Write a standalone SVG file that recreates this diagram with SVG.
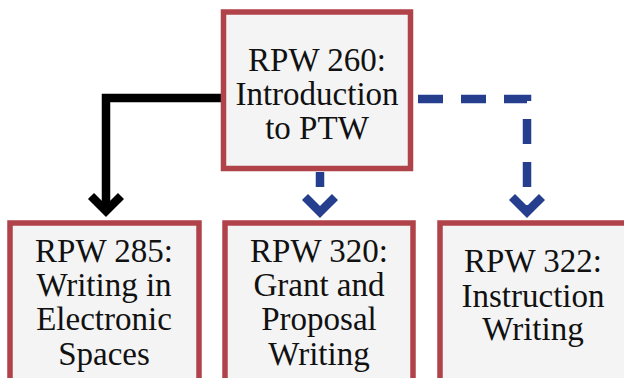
<svg xmlns="http://www.w3.org/2000/svg" width="624" height="378" viewBox="0 0 624 378">
<defs>
<style>
.box{fill:#f4f4f4;stroke:#b0434a;stroke-width:5.5}
.t{font-family:"Liberation Serif",serif;font-size:33px;fill:#111;text-anchor:middle}
.solid{fill:none;stroke:#000;stroke-width:8.5}
.dash{fill:none;stroke:#253f8e;stroke-width:8.5}
.ahB{fill:none;stroke:#000;stroke-width:8.5}
.ahD{fill:none;stroke:#253f8e;stroke-width:8.5}
</style>
</defs>
<rect width="624" height="378" fill="#fff"/>
<g id="connectors">
<path class="solid" d="M221 98 H106 V212"/>
<path class="ahB" d="M91 196 L106 211 L121 196"/>
<path class="dash" d="M418 99 H527 V210" stroke-dasharray="25 18"/>
<path class="ahD" d="M512 197 L527 212 L542 197"/>
<path class="dash" d="M320 172 V187"/>
<path class="ahD" d="M305 197 L320 212 L335 197"/>
</g>
<g id="n260">
<rect class="box" x="223.5" y="12" width="187" height="156.5"/>
<text class="t" x="317" y="71">RPW 260:</text>
<text class="t" x="317" y="105">Introduction</text>
<text class="t" x="317" y="139">to PTW</text>
</g>
<g id="n285">
<rect class="box" x="10" y="223" width="189" height="180"/>
<text class="t" x="104" y="262">RPW 285:</text>
<text class="t" x="104" y="296">Writing in</text>
<text class="t" x="104" y="330">Electronic</text>
<text class="t" x="104" y="365">Spaces</text>
</g>
<g id="n320">
<rect class="box" x="225" y="223" width="188" height="180"/>
<text class="t" x="319" y="262">RPW 320:</text>
<text class="t" x="319" y="296">Grant and</text>
<text class="t" x="319" y="330">Proposal</text>
<text class="t" x="319" y="365">Writing</text>
</g>
<g id="n322">
<rect class="box" x="440" y="223" width="190" height="180"/>
<text class="t" x="533" y="272">RPW 322:</text>
<text class="t" x="533" y="307">Instruction</text>
<text class="t" x="533" y="340">Writing</text>
</g>
</svg>
